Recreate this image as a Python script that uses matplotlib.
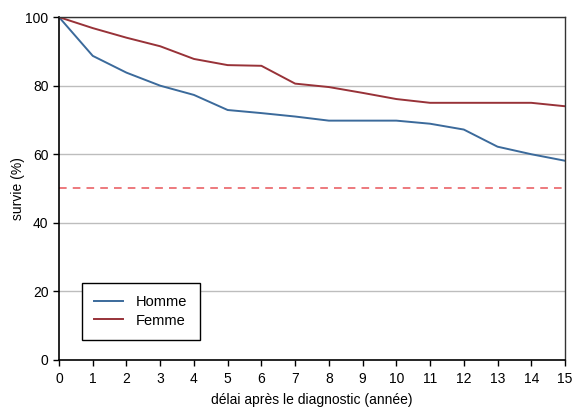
import numpy as np
import matplotlib
matplotlib.use("Agg")
import matplotlib.pyplot as plt

plt.rcParams['font.family'] = ['Liberation Sans', 'DejaVu Sans']

annees = list(range(16))
homme = [100, 88.7, 83.8, 80.0, 77.3, 72.9, 72.0, 71.0, 69.8, 69.8, 69.8, 68.9, 67.2, 62.2, 60.0, 58.1]
femme = [100, 96.8, 94.0, 91.5, 87.8, 86.0, 85.8, 80.6, 79.6, 77.9, 76.1, 75.0, 75.0, 75.0, 75.0, 74.0]
seuil = 50

fig = plt.figure(figsize=(5.73, 4.08), dpi=100)
ax = fig.add_axes([0.103, 0.118, 0.883, 0.840])

for y in [20, 40, 60, 80, 100]:
    ax.axhline(y, color='#bdbdbd', lw=1, zorder=0)
ax.axhline(seuil, color='#e8555a', lw=1.1, ls=(0, (5, 4)), zorder=1)

ax.plot(annees, homme, color='#3b6a9b', lw=1.4, label='Homme')
ax.plot(annees, femme, color='#983238', lw=1.4, label='Femme')

ax.set_xlim(0, 15)
ax.set_ylim(0, 100)
ax.set_xticks(annees)
ax.set_yticks([0, 20, 40, 60, 80, 100])
ax.tick_params(labelsize=10, length=4, width=1, colors='black')
ax.tick_params(axis='x', pad=4.5)
for s in ['left', 'bottom']:
    ax.spines[s].set_color('black')
    ax.spines[s].set_linewidth(1.2)
for s in ['top', 'right']:
    ax.spines[s].set_color('#333333')
    ax.spines[s].set_linewidth(1)

ax.set_xlabel('délai après le diagnostic (année)', fontsize=10, labelpad=5)
ax.set_ylabel('survie (%)', fontsize=10, labelpad=0)

leg = ax.legend(loc='lower left', bbox_to_anchor=(0.045, 0.058), fontsize=10.5,
                fancybox=False, framealpha=1, edgecolor='black', borderaxespad=0,
                borderpad=0.85, handlelength=2.0, handletextpad=0.85, labelspacing=0.3)
leg.get_frame().set_linewidth(1)

fig.savefig('out.png', dpi=100)
